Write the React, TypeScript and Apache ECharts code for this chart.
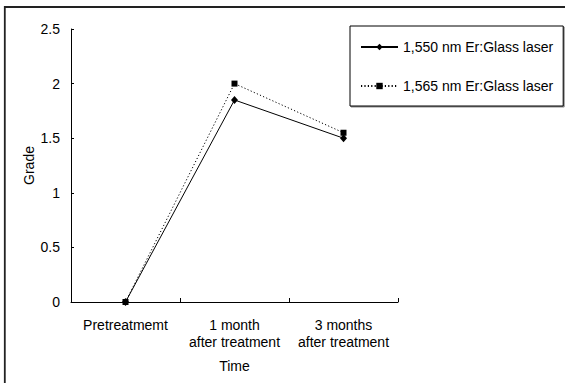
import React, { useEffect, useRef } from "react";
import * as echarts from "echarts";

const categories = ["Pretreatmemt", "1 month\nafter treatment", "3 months\nafter treatment"];
const seriesNames = ["1,550 nm Er:Glass laser", "1,565 nm Er:Glass laser"];
const values1550 = [0, 1.85, 1.5];
const values1565 = [0, 2.0, 1.55];
const yMin = 0;
const yMax = 2.5;
const yInterval = 0.5;
const xAxisTitle = "Time";
const yAxisTitle = "Grade";

const FONT = "Arial, 'Liberation Sans', Helvetica, sans-serif";

export default function App() {
  const ref = useRef<HTMLDivElement>(null);
  useEffect(() => {
    if (!ref.current) return;
    const chart = echarts.init(ref.current, undefined, { renderer: "svg" });
    chart.setOption({
      animation: false,
      backgroundColor: "#ffffff",
      textStyle: { fontFamily: FONT, color: "#000" },
      graphic: [
        {
          type: "polyline",
          shape: { points: [[4.8, 400], [4.8, 7], [600, 7]] },
          style: { fill: "none", stroke: "#222", lineWidth: 1.8 },
          silent: true,
        },
      ],
      grid: { left: 71, top: 29, width: 327, height: 273, containLabel: false },
      legend: {
        orient: "vertical",
        left: 350,
        top: 26,
        padding: [13, 10, 12, 10],
        itemGap: 23,
        itemWidth: 37,
        itemHeight: 8,
        selectedMode: false,
        borderColor: "#000",
        borderWidth: 1,
        backgroundColor: "#fff",
        shadowColor: "rgba(0,0,0,0.45)",
        shadowOffsetX: 1,
        shadowOffsetY: 1,
        shadowBlur: 0,
        textStyle: { fontFamily: FONT, fontSize: 14, color: "#000", lineHeight: 16 },
        data: seriesNames,
      },
      xAxis: {
        type: "category",
        data: categories,
        boundaryGap: true,
        name: xAxisTitle,
        nameLocation: "middle",
        nameGap: 57,
        nameMoveOverlap: false,
        nameTextStyle: { fontFamily: FONT, fontSize: 14, color: "#000" },
        axisLine: { show: true, lineStyle: { color: "#000", width: 1 } },
        axisTick: { show: true, inside: true, length: 4, alignWithLabel: false, lineStyle: { color: "#000" } },
        axisLabel: { margin: 14, fontFamily: FONT, fontSize: 14, lineHeight: 17.5, color: "#000", interval: 0 },
        splitLine: { show: false },
      },
      yAxis: {
        type: "value",
        min: yMin,
        max: yMax,
        interval: yInterval,
        name: yAxisTitle,
        nameLocation: "middle",
        nameGap: 35,
        nameMoveOverlap: false,
        nameTextStyle: { fontFamily: FONT, fontSize: 14, color: "#000" },
        axisLine: { show: true, lineStyle: { color: "#000", width: 1 } },
        axisTick: { show: true, inside: true, length: 3, lineStyle: { color: "#000" } },
        axisLabel: { margin: 11, fontFamily: FONT, fontSize: 14, color: "#000" },
        splitLine: { show: false },
      },
      series: [
        {
          name: seriesNames[0],
          type: "line",
          data: values1550,
          symbol: "diamond",
          symbolSize: [7, 8],
          itemStyle: { color: "#000" },
          lineStyle: { color: "#000", width: 1, type: "solid" },
          z: 3,
        },
        {
          name: seriesNames[1],
          type: "line",
          data: values1565,
          symbol: "rect",
          symbolSize: 6,
          itemStyle: { color: "#000" },
          lineStyle: { color: "#000", width: 1, type: [1.2, 2.2] },
          z: 4,
        },
      ],
    });
    return () => chart.dispose();
  }, []);
  return (
    <div
      ref={ref}
      style={{ position: "absolute", left: 0, top: 0, width: 565, height: 383, background: "#fff" }}
    />
  );
}
